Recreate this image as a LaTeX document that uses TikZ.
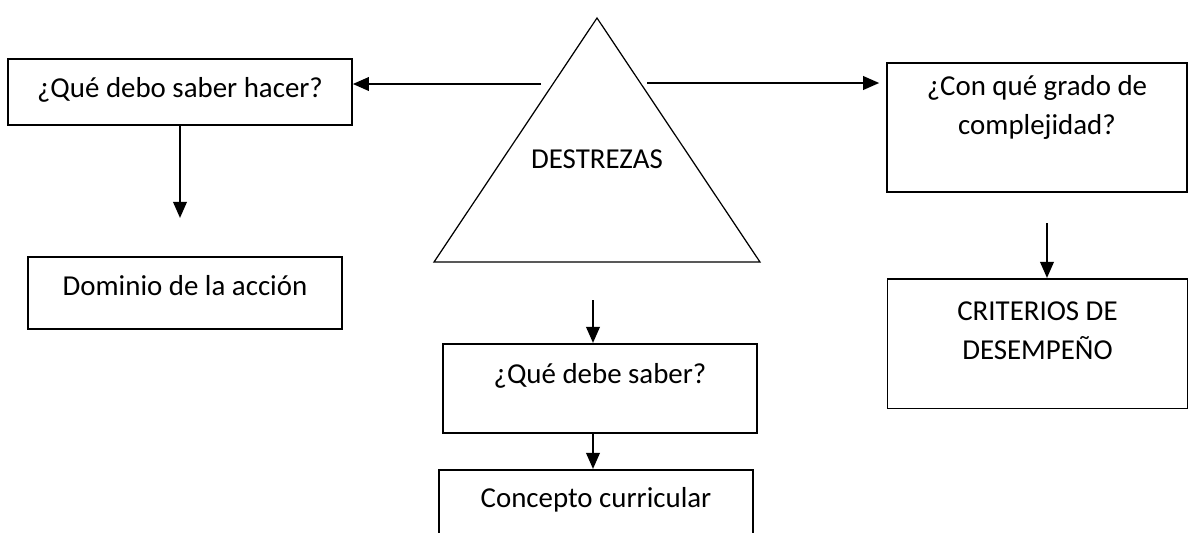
\documentclass[tikz,border=0pt]{standalone}
\usepackage{fontspec}
\setmainfont{Carlito}
\usetikzlibrary{calc,arrows.meta}

\tikzset{
  box/.style={draw, line width=0.65pt, inner sep=0pt, align=flush center,
    font=\fontsize{11.7pt}{15.6pt}\selectfont},
  arr/.style={line width=1pt, -{Triangle[length=6.5pt,width=5.4pt]}}
}

\begin{document}
\begin{tikzpicture}[x=40.5pt,y=40.5pt]

\useasboundingbox (0,0) rectangle (11.89,5.32);

% Define vertices of the triangle
\coordinate (A) at (5.97,5.14);
\coordinate (B) at (4.34,2.70);
\coordinate (C) at (7.60,2.70);

% Draw triangle ABC
\draw[line width=0.5pt] (A) -- (B) -- (C) -- cycle;
\node[font=\fontsize{11.7pt}{15.6pt}\selectfont, anchor=base] (destrezas) at (5.97,3.64) {DESTREZAS};

% Boxes
\node[box, anchor=north, text width=139.3pt, text height=15.8pt, text depth=10.9pt] (hacer) at (1.80,4.74) {¿Qué debo saber hacer?};
\node[box, anchor=north, text width=127.2pt, text height=15.8pt, text depth=13.4pt] (dominio) at (1.85,2.76) {Dominio de la acción};
\node[box, anchor=north, text width=127.2pt, text height=16.2pt, text depth=19.8pt] (debe) at (6.00,1.89) {¿Qué debe saber?};
\node[box, anchor=north, text width=127.2pt, text height=15.4pt, text depth=15.4pt] (concepto) at (5.96,0.63) {Concepto curricular};
\node[box, anchor=north, text width=121.5pt, text height=13.4pt, text depth=38.9pt] (grado) at (10.37,4.70) {¿Con qué grado de\\complejidad?};
\node[box, anchor=north, text width=121.5pt, text height=17.0pt, text depth=35.6pt] (criterios) at (10.375,2.54) {CRITERIOS DE\\DESEMPEÑO};

% Free ends of the arrows
\coordinate (lstart) at (5.41,4.48);
\coordinate (rstart) at (6.47,4.49);
\coordinate (hend) at (1.80,3.14);
\coordinate (cstart) at (5.93,2.32);
\coordinate (rdown) at (10.47,3.09);

% Arrows
\draw[arr] (lstart) -- (lstart -| hacer.east);
\draw[arr, shorten >=2.8pt] (rstart) -- (rstart -| grado.west);
\draw[arr] (hacer.south) -- (hend);
\draw[arr] (cstart) -- (cstart |- debe.north);
\draw[arr] (cstart |- debe.south) -- (cstart |- concepto.north);
\draw[arr] (rdown) -- (rdown |- criterios.north);

\end{tikzpicture}
\end{document}
